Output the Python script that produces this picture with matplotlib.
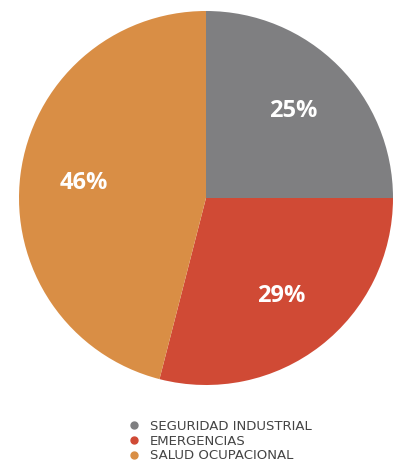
import matplotlib.pyplot as plt
from matplotlib.lines import Line2D

# Data
labels = ['SEGURIDAD INDUSTRIAL', 'EMERGENCIAS', 'SALUD OCUPACIONAL']
shares = [25, 29, 46]
colors = ['#7f7f81', '#d04a35', '#d98e45']

fig = plt.figure(figsize=(4.0, 4.69), dpi=100)
# pie centre ~ (206, 198) px, radius ~187 px
ax = fig.add_axes([(206 - 187) / 400, (469 - 198 - 187) / 469, 374 / 400, 374 / 469])

wedges, texts, autotexts = ax.pie(
    shares, colors=colors, startangle=90, counterclock=False,
    autopct='%d%%', pctdistance=0.66,
    wedgeprops=dict(linewidth=0),
    textprops=dict(color='white', fontsize=17, fontweight='bold',
                   family=['Open Sans', 'DejaVu Sans']))
ax.set_aspect('equal')
ax.set_xlim(-1, 1)
ax.set_ylim(-1, 1)

# legend with round markers
handles = [Line2D([0], [0], marker='o', linestyle='', markersize=5,
                  markerfacecolor=c, markeredgecolor=c) for c in colors]
fig.legend(handles, labels, loc='upper left', bbox_to_anchor=(0.322, 0.1045),
           frameon=False, handletextpad=0.81, labelspacing=0.12,
           borderaxespad=0, borderpad=0, handlelength=0.8,
           prop=dict(family=['DejaVu Sans'], size=9.5),
           labelcolor='#444444')

fig.savefig('out.png', dpi=100)
